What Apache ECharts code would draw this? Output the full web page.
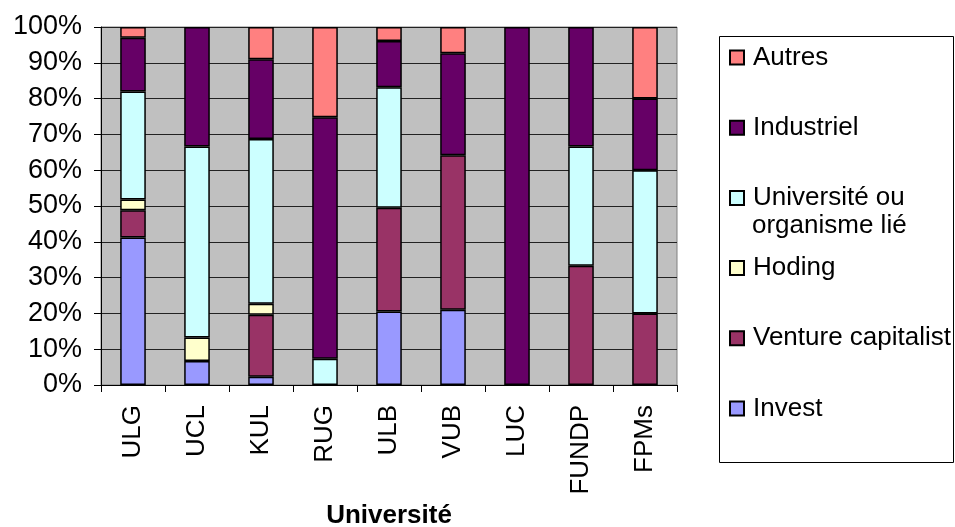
<!DOCTYPE html>
<html>
<head>
<meta charset="utf-8">
<script src="https://cdn.jsdelivr.net/npm/echarts@6/dist/echarts.min.js"></script>
<style>
  html, body { margin: 0; padding: 0; background: #ffffff; }
  #chart { width: 955px; height: 527px; }
</style>
</head>
<body>
<div id="chart"></div>
<script>
// Universities on the category axis
var categories = ['ULG', 'UCL', 'KUL', 'RUG', 'ULB', 'VUB', 'LUC', 'FUNDP', 'FPMs'];

// Share of each shareholder type per university (percent)
var invest     = [41.2, 6.7, 2.3, 0, 20.5, 21.0, 0, 0, 0];
var venture    = [7.6, 0, 17.3, 0, 29.0, 43.2, 0, 33.3, 20];
var hoding     = [3.0, 6.6, 3.1, 0, 0, 0, 0, 0, 0];
var universite = [30.2, 53.3, 46.0, 7.3, 33.7, 0, 0, 33.3, 40];
var industriel = [15.0, 33.4, 22.3, 67.5, 12.9, 28.5, 100, 33.4, 20];
var autres     = [3.0, 0, 9.0, 25.2, 3.9, 7.3, 0, 0, 20];

// Value axis tick labels
var yTicks = ['0%', '10%', '20%', '30%', '40%', '50%', '60%', '70%', '80%', '90%', '100%'];

var FONT = '"Liberation Sans", Arial, sans-serif';

var seriesDefs = [
  { name: 'Invest', data: invest, color: '#9999FF' },
  { name: 'Venture capitalist', data: venture, color: '#993366' },
  { name: 'Hoding', data: hoding, color: '#FFFFCC' },
  { name: 'Université ou organisme lié', data: universite, color: '#CCFFFF' },
  { name: 'Industriel', data: industriel, color: '#660066' },
  { name: 'Autres', data: autres, color: '#FF8080' }
];

var chart = echarts.init(document.getElementById('chart'), null, { renderer: 'canvas' });

var option = {
  backgroundColor: '#ffffff',
  animation: false,
  textStyle: { fontFamily: FONT },
  grid: {
    left: 101, right: 278, top: 27, bottom: 142,
    outerBoundsMode: 'none',
    containLabel: false,
    show: true,
    backgroundColor: '#C0C0C0',
    borderColor: '#808080',
    borderWidth: 1
  },
  legend: {
    orient: 'vertical',
    left: 729,
    top: 42.5,
    padding: 0,
    itemWidth: 14,
    itemHeight: 14,
    itemGap: 40.2,
    icon: 'rect',
    selectedMode: false,
    data: ['Autres', 'Industriel', 'Université ou organisme lié', 'Hoding', 'Venture capitalist', 'Invest'],
    formatter: function (name) {
      return name === 'Université ou organisme lié' ? 'Université ou' : name;
    },
    textStyle: {
      fontFamily: FONT,
      fontSize: 26,
      lineHeight: 30,
      color: '#000',
      padding: [0, 0, 0, 4]
    }
  },
  graphic: [
    {
      type: 'rect',
      shape: { x: 719.5, y: 36.5, width: 234, height: 426 },
      style: { fill: 'none', stroke: '#000', lineWidth: 1 },
      z: -1
    },
    {
      type: 'text',
      left: 752,
      top: 213,
      style: { text: 'organisme lié', font: '26px ' + FONT, fill: '#000' }
    }
  ],
  xAxis: {
    type: 'category',
    data: categories,
    name: 'Université',
    nameLocation: 'middle',
    nameGap: 118,
    nameTextStyle: { fontFamily: FONT, fontSize: 26, fontWeight: 'bold', color: '#000' },
    axisLine: { lineStyle: { color: '#000', width: 1 } },
    axisTick: { show: true, length: 7, lineStyle: { color: '#000' } },
    axisLabel: {
      rotate: 90,
      margin: 20,
      fontFamily: FONT,
      fontSize: 26,
      color: '#000'
    },
    splitLine: { show: false }
  },
  yAxis: {
    type: 'value',
    min: 0,
    max: 100,
    interval: 10,
    axisLine: { show: true, lineStyle: { color: '#000', width: 1 } },
    axisTick: { show: true, length: 7, lineStyle: { color: '#000' } },
    axisLabel: {
      margin: 19,
      fontFamily: FONT,
      fontSize: 27,
      color: '#000',
      formatter: function (v) { return yTicks[Math.round(v / 10)]; }
    },
    splitLine: { show: true, lineStyle: { color: '#222', width: 1 } }
  },
  series: seriesDefs.map(function (s) {
    return {
      name: s.name,
      type: 'bar',
      stack: 'total',
      barWidth: '40%',
      // empty segments are left out so they draw no outline
      data: s.data.map(function (v) { return v === 0 ? '-' : v; }),
      itemStyle: { color: s.color, borderColor: '#000', borderWidth: 1.5 },
      emphasis: { disabled: true }
    };
  })
};

chart.setOption(option);
</script>
</body>
</html>
